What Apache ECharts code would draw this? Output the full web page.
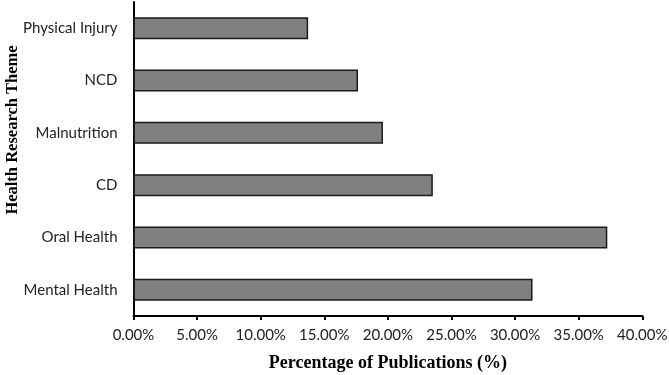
<!DOCTYPE html>
<html>
<head>
<meta charset="utf-8">
<script src="https://cdn.jsdelivr.net/npm/echarts@6/dist/echarts.min.js"></script>
<style>
html,body{margin:0;padding:0;background:#fff;}
#chart{width:669px;height:375px;}
</style>
</head>
<body>
<div id="chart"></div>
<script>
const categories = ["Mental Health", "Oral Health", "CD", "Malnutrition", "NCD", "Physical Injury"];
const values = [31.37, 37.25, 23.53, 19.61, 17.65, 13.73];
const xTicks = [0, 5, 10, 15, 20, 25, 30, 35, 40];

const chart = echarts.init(document.getElementById('chart'));
chart.setOption({
  animation: false,
  backgroundColor: '#fff',
  grid: {left: 133.5, right: 26.7, top: 2, bottom: 59, containLabel: false, outerBoundsMode: 'none'},
  xAxis: {
    type: 'value', min: xTicks[0], max: xTicks[xTicks.length - 1], interval: 5,
    name: 'Percentage of Publications (%)', nameLocation: 'middle', nameGap: 38,
    nameTextStyle: {fontFamily: 'Liberation Serif', fontWeight: 'bold', fontSize: 18, color: '#000'},
    axisLine: {show: true, lineStyle: {color: '#000', width: 2}},
    axisTick: {show: true, length: 4, lineStyle: {color: '#000', width: 2}},
    axisLabel: {color: '#222', fontFamily: 'Lato', fontSize: 15, margin: 12,
      formatter: v => v.toFixed(2) + '%'},
    splitLine: {show: false}
  },
  yAxis: {
    type: 'category', data: categories,
    axisLine: {show: true, lineStyle: {color: '#000', width: 2}},
    axisTick: {show: false},
    axisLabel: {color: '#222', fontFamily: 'Lato', fontSize: 15, margin: 16}
  },
  graphic: [{
    type: 'text', x: 4, y: 130, rotation: Math.PI / 2,
    style: {text: 'Health Research Theme', font: 'bold 16.5px "Liberation Serif"', fill: '#000',
      align: 'center', verticalAlign: 'top'}
  }],
  series: [{
    type: 'bar', data: values, barCategoryGap: '58%',
    itemStyle: {color: '#808080', borderColor: '#1a1a1a', borderWidth: 1.5}
  }]
});
</script>
</body>
</html>
